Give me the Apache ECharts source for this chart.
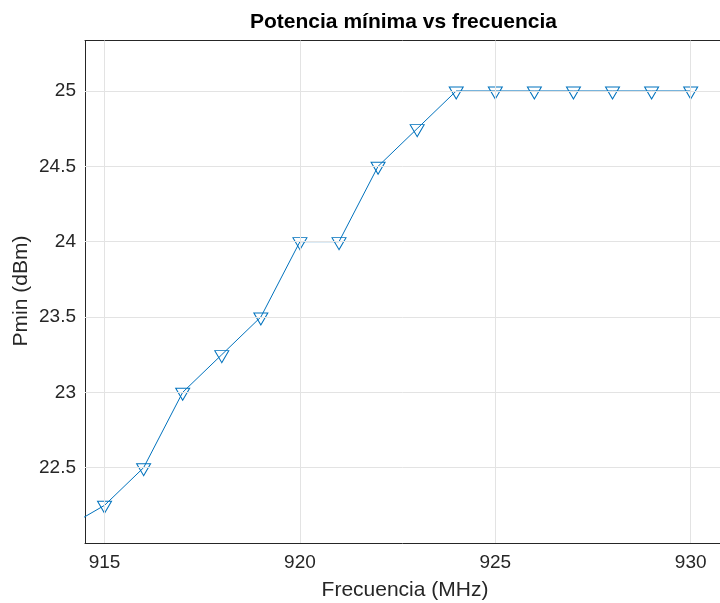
<!DOCTYPE html>
<html>
<head>
<meta charset="utf-8">
<title>Potencia mínima vs frecuencia</title>
<script src="https://cdn.jsdelivr.net/npm/echarts@6/dist/echarts.min.js"></script>
<style>
  html, body { margin: 0; padding: 0; background: #ffffff; }
  #chart { width: 720px; height: 603px; }
</style>
</head>
<body>
<div id="chart"></div>
<script>
// Frequency sweep (MHz) and the minimum power found at each step (dBm)
const frecuencias = [914, 915, 916, 917, 918, 919, 920, 921, 922, 923, 924, 925, 926, 927, 928, 929, 930];
const potenciaMin = [22.1, 22.25, 22.5, 23, 23.25, 23.5, 24, 24, 24.5, 24.75, 25, 25, 25, 25, 25, 25, 25];

// Tick positions shown on each axis
const xTicks = [915, 920, 925, 930];
const yTicks = [22.5, 23, 23.5, 24, 24.5, 25];

const FONT = '"Liberation Sans", Arial, Helvetica, sans-serif';
const AXIS_COLOR = '#262626';
const GRID_COLOR = '#e3e3e3';
const LINE_COLOR = '#0072BD';

const puntos = frecuencias.map((f, i) => [f, potenciaMin[i]]);

const X_MIN = 914.5, X_MAX = 930.75;
const Y_MIN = 22, Y_MAX = 25.335;

const baseX = {
  type: 'value',
  min: X_MIN,
  max: X_MAX,
  axisLine: { show: true, lineStyle: { color: AXIS_COLOR, width: 1 } },
  axisTick: { show: true, inside: true, length: 6, customValues: xTicks, lineStyle: { color: AXIS_COLOR } },
  splitLine: { show: false }
};
const baseY = {
  type: 'value',
  min: Y_MIN,
  max: Y_MAX,
  interval: 0.5,
  axisLine: { show: true, lineStyle: { color: AXIS_COLOR, width: 1 } },
  axisTick: { show: true, inside: true, length: 6, customValues: yTicks, lineStyle: { color: AXIS_COLOR } },
  splitLine: { show: false }
};

const chart = echarts.init(document.getElementById('chart'), null, { renderer: 'canvas' });

chart.setOption({
  backgroundColor: '#ffffff',
  animation: false,
  textStyle: { fontFamily: FONT },
  grid: { left: 85, right: 0, top: 40.5, bottom: 60, containLabel: false },
  xAxis: [
    Object.assign({}, baseX, {
      position: 'bottom',
      axisLabel: {
        show: true, customValues: xTicks, margin: 10,
        color: AXIS_COLOR, fontSize: 19, fontFamily: FONT
      }
    }),
    Object.assign({}, baseX, {
      position: 'top',
      axisLabel: { show: false }
    })
  ],
  yAxis: [
    Object.assign({}, baseY, {
      position: 'left',
      axisLabel: {
        show: true, customValues: yTicks, margin: 9,
        color: AXIS_COLOR, fontSize: 19, fontFamily: FONT,
        formatter: v => String(v)
      }
    }),
    // right side of the box sits just past the canvas edge: only its ticks show
    Object.assign({}, baseY, {
      position: 'right',
      axisLine: { show: false },
      axisLabel: { show: false }
    })
  ],
  graphic: [
    {
      type: 'text', x: 403.5, y: 22, silent: true,
      style: {
        text: 'Potencia mínima vs frecuencia',
        font: 'bold 21px ' + FONT, fill: '#000000',
        align: 'center', verticalAlign: 'middle'
      }
    },
    {
      type: 'text', x: 405, y: 590, silent: true,
      style: {
        text: 'Frecuencia (MHz)',
        font: '21px ' + FONT, fill: AXIS_COLOR,
        align: 'center', verticalAlign: 'middle'
      }
    },
    {
      type: 'text', x: 21, y: 291, rotation: Math.PI / 2, silent: true,
      style: {
        text: 'Pmin (dBm)',
        font: '21px ' + FONT, fill: AXIS_COLOR,
        align: 'center', verticalAlign: 'middle'
      }
    }
  ],
  series: [
    {
      // grid lines only at the labelled ticks
      name: 'rejilla',
      type: 'line',
      data: [],
      silent: true,
      z: 1,
      markLine: {
        silent: true,
        symbol: ['none', 'none'],
        label: { show: false },
        animation: false,
        lineStyle: { color: GRID_COLOR, type: 'solid', width: 1 },
        emphasis: { disabled: true },
        data: xTicks.map(v => ({ xAxis: v })).concat(yTicks.map(v => ({ yAxis: v })))
      }
    },
    {
      name: 'Pmin',
      type: 'line',
      xAxisIndex: 0,
      yAxisIndex: 0,
      data: puntos,
      clip: true,
      symbol: 'triangle',
      symbolRotate: 180,
      symbolSize: [14, 12],
      symbolOffset: [0, 2],
      showAllSymbol: true,
      lineStyle: { color: LINE_COLOR, width: 1 },
      itemStyle: { color: 'rgba(0,0,0,0)', borderColor: LINE_COLOR, borderWidth: 1 },
      emphasis: { disabled: true },
      z: 3
    }
  ]
});
</script>
</body>
</html>
